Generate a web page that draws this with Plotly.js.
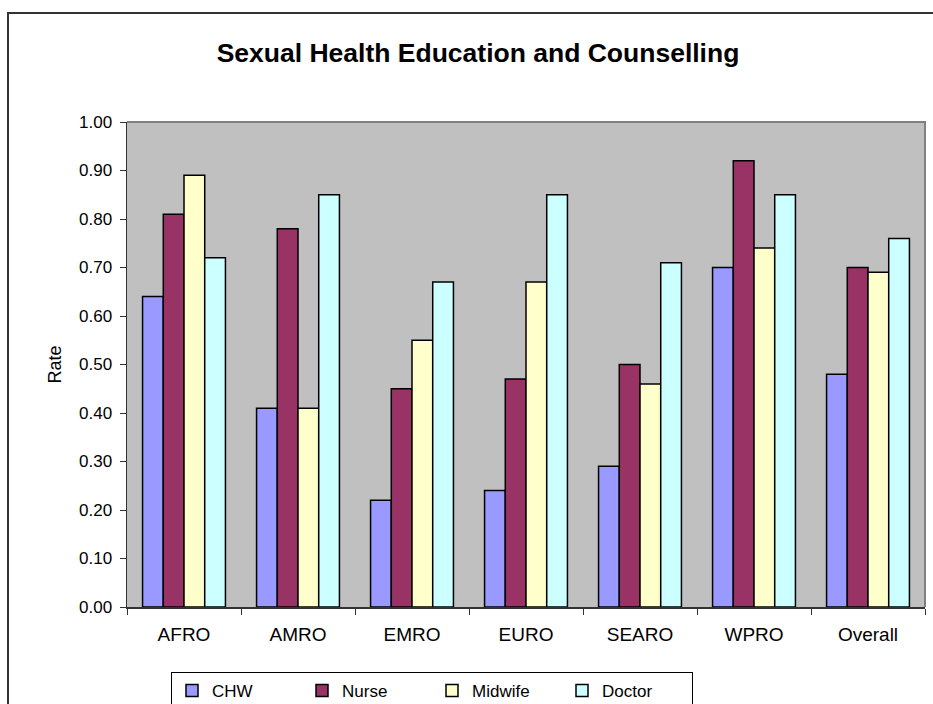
<!DOCTYPE html>
<html>
<head>
<meta charset="utf-8">
<script src="https://cdn.plot.ly/plotly-3.0.1.min.js"></script>
<style>
  html, body { margin: 0; padding: 0; background: #ffffff; }
  #chart { width: 933px; height: 704px; }
</style>
</head>
<body>
<div id="chart"></div>
<script>
// WHO regions and the overall figure
const regions = ['AFRO', 'AMRO', 'EMRO', 'EURO', 'SEARO', 'WPRO', 'Overall'];

// Rate per cadre
const chw     = [0.64, 0.41, 0.22, 0.24, 0.29, 0.70, 0.48];
const nurse   = [0.81, 0.78, 0.45, 0.47, 0.50, 0.92, 0.70];
const midwife = [0.89, 0.41, 0.55, 0.67, 0.46, 0.74, 0.69];
const doctor  = [0.72, 0.85, 0.67, 0.85, 0.71, 0.85, 0.76];

const seriesNames = ['CHW', 'Nurse', 'Midwife', 'Doctor'];
const seriesValues = [chw, nurse, midwife, doctor];
const seriesColors = ['#9999FF', '#993366', '#FFFFCC', '#CCFFFF'];

const traces = seriesNames.map((name, i) => ({
  type: 'bar',
  name: name,
  x: regions,
  y: seriesValues[i],
  marker: { color: seriesColors[i], line: { color: '#000000', width: 1.5 } },
  hoverinfo: 'x+y+name'
}));

// plot area in pixels: left 127, right 925, top 122, bottom 607
const W = 933, H = 704;
const L = 127, R = 925, T = 122, B = 607;
const pw = R - L, ph = B - T;
const px = v => (v - L) / pw;
const py = v => (B - v) / ph;

const font = 'Arial, "Liberation Sans", Helvetica, sans-serif';

const layout = {
  width: W,
  height: H,
  margin: { l: L, r: W - R, t: T, b: H - B, pad: 0 },
  paper_bgcolor: '#ffffff',
  plot_bgcolor: '#C0C0C0',
  font: { family: font, color: '#000000', size: 17 },
  title: {
    text: '<b>Sexual Health Education and Counselling</b>',
    font: { family: font, size: 26.5, color: '#000000' },
    xref: 'paper',
    x: px(478),
    xanchor: 'center',
    yref: 'container',
    y: 1 - 53 / H,
    yanchor: 'middle'
  },
  barmode: 'group',
  bargap: 0.273,
  bargroupgap: 0,
  xaxis: {
    type: 'category',
    showgrid: false,
    showline: true,
    linecolor: '#333333',
    linewidth: 1.5,
    ticks: 'outside',
    tickson: 'boundaries',
    ticklen: 6,
    tickcolor: '#333333',
    tickwidth: 1,
    ticklabelstandoff: 10,
    tickfont: { family: font, size: 19, color: '#000000' },
    zeroline: false,
    automargin: false,
    fixedrange: true
  },
  yaxis: {
    range: [0, 1],
    dtick: 0.1,
    tick0: 0,
    tickformat: '.2f',
    showgrid: false,
    zeroline: false,
    showline: true,
    linecolor: '#333333',
    linewidth: 1.5,
    ticks: 'outside',
    ticklen: 6,
    tickcolor: '#333333',
    tickwidth: 1,
    ticklabelstandoff: 4,
    tickfont: { family: font, size: 17, color: '#000000' },
    title: { text: 'Rate', font: { family: font, size: 18, color: '#000000' }, standoff: 12 },
    automargin: false,
    fixedrange: true
  },
  showlegend: true,
  legend: {
    orientation: 'h',
    xref: 'paper',
    x: px(432),
    xanchor: 'center',
    yref: 'container',
    y: 1 - 672 / H,
    yanchor: 'top',
    entrywidth: 85,
    entrywidthmode: 'pixels',
    bordercolor: '#000000',
    borderwidth: 1,
    bgcolor: '#ffffff',
    font: { family: font, size: 17, color: '#000000' },
    traceorder: 'normal'
  },
  shapes: [
    // outer chart frame
    {
      type: 'rect', xref: 'paper', yref: 'paper',
      x0: px(8), x1: px(960), y0: py(740), y1: py(13),
      line: { color: '#333333', width: 2 }, fillcolor: 'rgba(0,0,0,0)', layer: 'below'
    },
    // grey top and right edges of the plot area
    {
      type: 'path', xref: 'paper', yref: 'paper',
      path: 'M 0,1 L 1,1 L 1,0',
      line: { color: '#808080', width: 2 }, layer: 'above'
    }
  ]
};

Plotly.newPlot('chart', traces, layout, { displayModeBar: false, staticPlot: true });
</script>
</body>
</html>
